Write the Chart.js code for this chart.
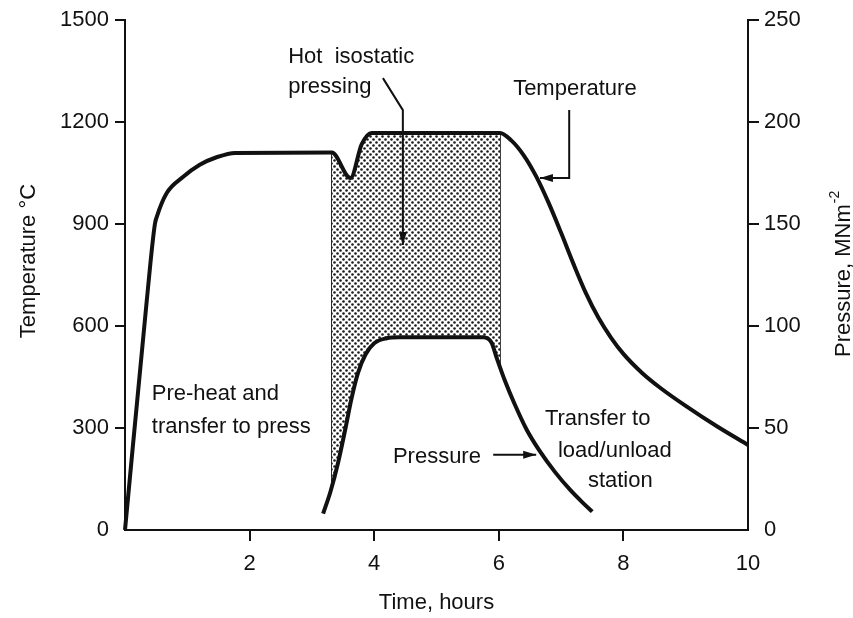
<!DOCTYPE html>
<html>
<head>
<meta charset="utf-8">
<script src="https://cdn.jsdelivr.net/npm/chart.js@4.4.1/dist/chart.umd.min.js"></script>
<style>
  body { margin: 0; background: #fff; }
  #wrap { width: 853px; height: 618px; }
</style>
</head>
<body>
<div id="wrap"><canvas id="hipChart" width="853" height="618"></canvas></div>
<script>
// temperature curve (left axis, deg C)
var tempHours = [0, 0.35, 0.48, 0.51, 0.67, 0.93, 1.2, 1.48, 1.77, 3.32, 3.62, 3.8, 3.96, 6.02, 6.2, 6.4, 6.6, 6.8, 7.0, 7.2, 7.4, 7.6, 7.8, 8.0, 8.3, 8.6, 9.0, 9.5, 10];
var tempValues = [0, 676, 900, 921, 991, 1038, 1074, 1097, 1109, 1110, 1035, 1135, 1168, 1168, 1146, 1102, 1040, 962, 874, 782, 696, 624, 566, 518, 462, 417, 365, 305, 250];

// pressure curve (right axis, MN/m2)
var pressHours = [3.18, 3.3, 3.42, 3.54, 3.64, 3.74, 3.86, 4.0, 4.2, 4.4, 5.75, 5.88, 5.97, 6.1, 6.25, 6.45, 6.65, 6.9, 7.15, 7.35, 7.5];
var pressValues = [8, 19, 33, 50, 65, 77, 86, 91.5, 94, 94.5, 94.5, 92, 84, 73, 62, 49, 39, 28.5, 19.5, 13.3, 9];

// upper edge of the shaded hot isostatic pressing zone
var hipHours = [3.32, 3.62, 3.8, 3.96, 6.02];
var hipTemp = [1110, 1035, 1135, 1168, 1168];

// side edges of the shaded zone (deg C scale)
var edgeHours = [3.32, 3.32, null, 6.02, 6.02];
var edgeTemp = [1110, 135, null, 1168, 470];

// tick labels
var hourTicks = [0, 2, 4, 6, 8, 10];
var tempTicks = [0, 300, 600, 900, 1200, 1500];
var pressTicks = [0, 50, 100, 150, 200, 250];

var FONT = '"Liberation Sans", Arial, Helvetica, sans-serif';
var INK = '#111';

function toPoints(xs, ys) {
    return xs.map(function(x, i) { return x === null ? {x: NaN, y: null} : {x: x, y: ys[i]}; });
}

// motif de points pour la zone hachuree
function dotPattern() {
    var c = document.createElement('canvas');
    c.width = 6; c.height = 6;
    var g = c.getContext('2d');
    g.fillStyle = '#fff';
    g.fillRect(0, 0, 6, 6);
    g.fillStyle = '#1a1a1a';
    g.beginPath(); g.arc(1.5, 1.5, 1.3, 0, Math.PI * 2); g.fill();
    g.beginPath(); g.arc(4.5, 4.5, 1.3, 0, Math.PI * 2); g.fill();
    return g.createPattern(c, 'repeat');
}

// annotations (in data units: hours, deg C)
var notes = [
    {text: 'Hot  isostatic', x: 2.62, y: 1374},
    {text: 'pressing', x: 2.62, y: 1285},
    {text: 'Temperature', x: 6.23, y: 1279},
    {text: 'Pre-heat and', x: 0.43, y: 382},
    {text: 'transfer to press', x: 0.43, y: 285},
    {text: 'Pressure', x: 4.30, y: 197},
    {text: 'Transfer to', x: 6.74, y: 309},
    {text: 'load/unload', x: 6.95, y: 215},
    {text: 'station', x: 7.43, y: 126}
];
var arrows = [
    [[4.14, 1329], [4.46, 1235], [4.46, 838]],
    [[7.13, 1235], [7.13, 1035], [6.66, 1035]],
    [[5.91, 221], [6.6, 221]]
];

function drawArrow(ctx, pts) {
    ctx.lineWidth = 2;
    ctx.beginPath();
    pts.forEach(function(p, i) { if (i) ctx.lineTo(p[0], p[1]); else ctx.moveTo(p[0], p[1]); });
    ctx.stroke();
    var a = pts[pts.length - 2], b = pts[pts.length - 1];
    var ang = Math.atan2(b[1] - a[1], b[0] - a[0]);
    ctx.save();
    ctx.translate(b[0], b[1]);
    ctx.rotate(ang);
    ctx.beginPath();
    ctx.moveTo(0, 0); ctx.lineTo(-13, -4); ctx.lineTo(-13, 4);
    ctx.closePath();
    ctx.fill();
    ctx.restore();
}

var notesPlugin = {
    id: 'notes',
    afterDatasetsDraw: function(chart) {
        var ctx = chart.ctx, xs = chart.scales.x, ys = chart.scales.y;
        ctx.save();
        ctx.fillStyle = INK;
        ctx.strokeStyle = INK;
        ctx.font = '22px ' + FONT;
        ctx.textBaseline = 'alphabetic';
        ctx.textAlign = 'left';
        notes.forEach(function(n) {
            ctx.fillText(n.text, xs.getPixelForValue(n.x), ys.getPixelForValue(n.y));
        });
        arrows.forEach(function(a) {
            drawArrow(ctx, a.map(function(p) { return [xs.getPixelForValue(p[0]), ys.getPixelForValue(p[1])]; }));
        });

        // titres des axes verticaux
        ctx.save();
        ctx.translate(35, 261);
        ctx.rotate(-Math.PI / 2);
        ctx.textAlign = 'center';
        ctx.fillText('Temperature \u00B0C', 0, 0);
        ctx.restore();

        ctx.save();
        ctx.translate(850, 357);
        ctx.rotate(-Math.PI / 2);
        ctx.fillText('Pressure, MNm', 0, 0);
        var w = ctx.measureText('Pressure, MNm').width;
        ctx.font = '14px ' + FONT;
        ctx.fillText('-2', w + 1, -11);
        ctx.restore();
        ctx.restore();
    }
};

function tickColor(c) {
    return (c.tick && c.tick.value === 0) ? 'rgba(0,0,0,0)' : INK;
}

function plainLabel(v) {
    return String(v);
}

Chart.defaults.font.family = FONT;
Chart.defaults.font.size = 22;
Chart.defaults.color = INK;

var ctxHip = document.getElementById('hipChart').getContext('2d');
var hipChart = new Chart(ctxHip, {
    type: 'line',
    data: {
        datasets: [{
            label: 'Temperature',
            data: toPoints(tempHours, tempValues),
            yAxisID: 'y',
            borderColor: INK,
            borderWidth: 4,
            pointRadius: 0,
            cubicInterpolationMode: 'monotone',
            fill: false,
            clip: false
        }, {
            label: 'Pressure',
            data: toPoints(pressHours, pressValues),
            yAxisID: 'y1',
            borderColor: INK,
            borderWidth: 4,
            pointRadius: 0,
            cubicInterpolationMode: 'monotone',
            fill: false,
            clip: false
        }, {
            label: 'HIP',
            data: toPoints(hipHours, hipTemp),
            yAxisID: 'y',
            borderColor: 'rgba(0,0,0,0)',
            borderWidth: 1,
            pointRadius: 0,
            cubicInterpolationMode: 'monotone',
            backgroundColor: dotPattern(),
            fill: {target: 1}
        }, {
            label: 'HIP edges',
            data: toPoints(edgeHours, edgeTemp),
            yAxisID: 'y',
            borderColor: INK,
            borderWidth: 1.5,
            pointRadius: 0,
            tension: 0,
            spanGaps: false,
            fill: false
        }]
    },
    options: {
        responsive: false,
        animation: false,
        layout: {padding: {top: 20, left: 0, right: 0, bottom: 0}},
        plugins: {
            legend: {display: false},
            tooltip: {enabled: false}
        },
        scales: {
            x: {
                type: 'linear',
                min: 0,
                max: 10,
                afterBuildTicks: function(s) { s.ticks = hourTicks.map(function(v) { return {value: v}; }); },
                afterFit: function(s) { s.height = 88; },
                ticks: {
                    padding: 10,
                    maxRotation: 0,
                    callback: function(v) { return v === 0 ? '' : String(v); }
                },
                grid: {
                    drawOnChartArea: false,
                    tickLength: 11,
                    lineWidth: 2,
                    color: function(c) { return (c.tick && (c.tick.value === 0 || c.tick.value === 10)) ? 'rgba(0,0,0,0)' : INK; }
                },
                border: {display: true, color: INK, width: 2},
                title: {display: true, text: 'Time, hours', padding: {top: 0, bottom: 2}}
            },
            y: {
                position: 'left',
                min: 0,
                max: 1500,
                afterBuildTicks: function(s) { s.ticks = tempTicks.map(function(v) { return {value: v}; }); },
                afterFit: function(s) { s.width = 125; },
                ticks: {padding: 6, callback: plainLabel},
                grid: {drawOnChartArea: false, tickLength: 10, lineWidth: 2, color: tickColor},
                border: {display: true, color: INK, width: 2}
            },
            y1: {
                position: 'right',
                min: 0,
                max: 250,
                afterBuildTicks: function(s) { s.ticks = pressTicks.map(function(v) { return {value: v}; }); },
                afterFit: function(s) { s.width = 105; },
                ticks: {padding: 5, callback: plainLabel},
                grid: {drawOnChartArea: false, tickLength: 11, lineWidth: 2, color: tickColor},
                border: {display: true, color: INK, width: 2}
            }
        }
    },
    plugins: [notesPlugin]
});
</script>
</body>
</html>
